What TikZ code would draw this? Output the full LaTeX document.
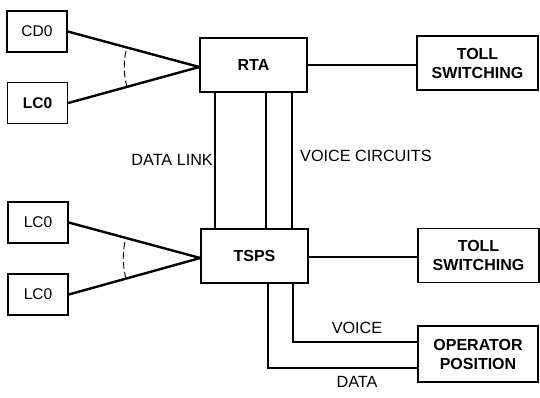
\documentclass[tikz,border=0pt]{standalone}
\usepackage{fontspec}
\setmainfont{Liberation Sans}
\begin{document}
\begin{tikzpicture}[x=1pt,y=-1pt,
  unit/.style={draw, line width=1.5pt, minimum width=60pt, minimum height=41pt,
    inner sep=0pt, font=\fontsize{15.5}{18}\selectfont},
  block/.style={draw, line width=1.5pt, minimum width=107pt, minimum height=54pt,
    inner sep=0pt, font=\fontsize{16}{18}\selectfont\bfseries},
  dest/.style={draw, line width=1.5pt, minimum width=121pt, minimum height=54pt,
    inner sep=0pt, align=center, font=\fontsize{16}{19}\selectfont\bfseries},
  wire/.style={line width=2.4pt},
  sweep/.style={line width=0.9pt, dash pattern=on 7pt off 3pt},
  tag/.style={inner sep=0pt, font=\fontsize{16.2}{18}\selectfont}]
\useasboundingbox (0,0) rectangle (540,397);

% left-hand offices
\node[unit] (cdo)  at (37,31.5)  {CD0};
\node[unit, font=\fontsize{15.5}{18}\selectfont\bfseries] (lcoA) at (37.5,103) {LC0};
\node[unit] (lcoB) at (38,222.5) {LC0};
\node[unit] (lcoC) at (38,294.5) {LC0};

% central equipment
\node[block] (rta)  at (253.5,65) {RTA};
\node[block] (tsps) at (254.5,256) {TSPS};

% right-hand destinations
\node[dest] (tollA) at (477.5,63)   {TOLL\\SWITCHING};
\node[dest] (tollB) at (478.5,255.5) {TOLL\\SWITCHING};
\node[dest, minimum width=120pt, minimum height=56pt] (oper) at (478,354) {OPERATOR\\POSITION};

% trunk convergence points
\coordinate (rtaIn)  at (rta.west |- 0,67);
\coordinate (tspsIn) at (tsps.west |- 0,258);

\draw[wire] (cdo.east)  -- (rtaIn);
\draw[wire] (lcoA.east) -- (rtaIn);
\draw[wire] (lcoB.east) -- (tspsIn);
\draw[wire] (lcoC.east) -- (tspsIn);

% dashed sweeps between converging trunks
\draw[sweep] (rtaIn)  ++(164.2:75) arc[start angle=164.2, end angle=194.8, radius=75];
\draw[sweep] (tspsIn) ++(164.5:77) arc[start angle=164.5, end angle=194.7, radius=77];

% RTA and TSPS to toll switching
\draw[wire] (rta.east |- 0,65)   -- (tollA.west |- 0,65);
\draw[wire] (tsps.east |- 0,257) -- (tollB.west |- 0,257);

% data link and voice circuits between RTA and TSPS
\draw[wire] (rta.south -| 215,0) -- (tsps.north -| 215,0);
\draw[wire] (rta.south -| 266,0) -- (tsps.north -| 266,0);
\draw[wire] (rta.south -| 292,0) -- (tsps.north -| 292,0);

% TSPS to operator position
\draw[wire] (tsps.south -| 293,0) |- (oper.west |- 0,342);
\draw[wire] (tsps.south -| 268,0) |- (oper.west |- 0,368);

% labels
\node[tag, anchor=east] (dlink)  at (213,160) {DATA LINK};
\node[tag, anchor=west] (vcirc)  at (300,156) {VOICE CIRCUITS};
\node[tag] (vlab) at (357,328) {VOICE};
\node[tag] (dlab) at (357,382) {DATA};
\end{tikzpicture}
\end{document}
